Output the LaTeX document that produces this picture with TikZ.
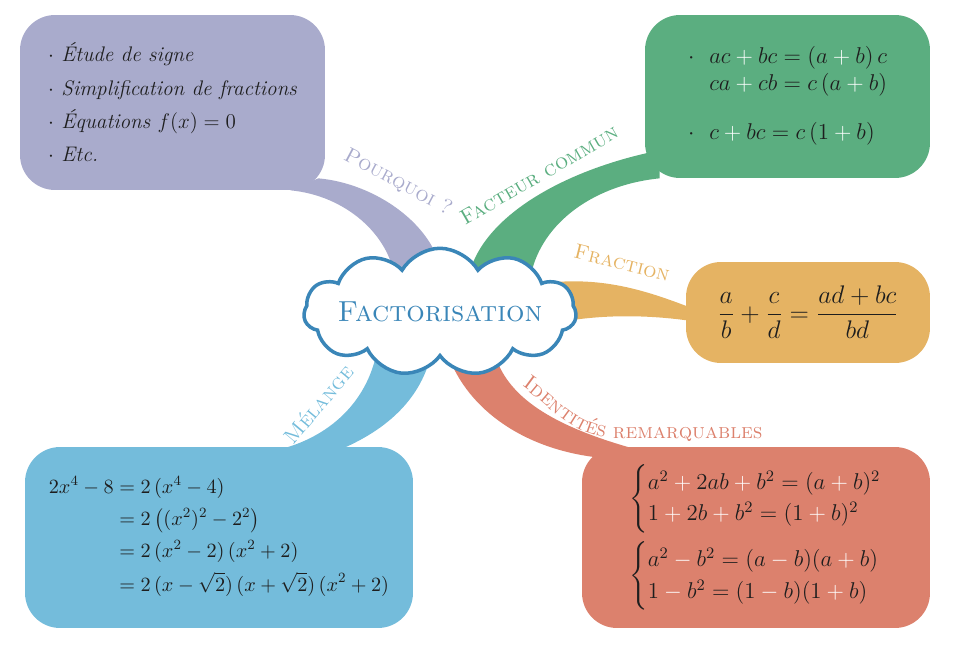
\RequirePackage{fix-cm}
\documentclass[tikz,border=0pt]{standalone}
\usepackage{amsmath}
\usepackage{amssymb}
\usetikzlibrary{shapes.symbols,decorations.text,backgrounds,calc}

\definecolor{pourquoicol}{RGB}{169,171,204}
\definecolor{facteurcol}{RGB}{91,174,128}
\definecolor{fractioncol}{RGB}{229,179,99}
\definecolor{identcol}{RGB}{220,129,109}
\definecolor{melangecol}{RGB}{116,188,219}
\definecolor{cloudcol}{RGB}{58,134,184}
\definecolor{inkcol}{RGB}{30,30,30}

\newcommand{\wplus}{\mathbin{\color{white}+}}
\newcommand{\wminus}{\mathbin{\color{white}-}}

\tikzset{
  box/.style={rounded corners=0.7cm, inner sep=0pt, align=left, text=inkcol,
    font=\fontsize{13}{18}\selectfont},
  branchlabel/.style={inner sep=0pt, font=\fontsize{12}{14}\selectfont\scshape},
}

\begin{document}
\begin{tikzpicture}[x=0.02cm,y=-0.02cm]
\useasboundingbox (0,0) rectangle (960,656);

% central idea
\node[cloud, cloud puffs=11, cloud puff arc=120, aspect=2.1, draw=cloudcol, line width=2pt,
  fill=white, minimum width=5.45cm, minimum height=2.55cm] (cloud) at (440,312) {};
\node[text=cloudcol, font=\fontsize{16.5}{20}\selectfont\scshape] (titre) at (cloud.center) {Factorisation};

% boxes
\node[box, fill=pourquoicol, minimum width=6.1cm, minimum height=3.5cm,
  font=\fontsize{12}{19}\selectfont\itshape] (pourquoi) at (172.5,102.5)
  {$\cdot$ Étude de signe\\ $\cdot$ Simplification de fractions\\
   $\cdot$ Équations $f(x) = 0$\\ $\cdot$ Etc.};
\node[box, fill=facteurcol, minimum width=5.7cm, minimum height=3.26cm,
  font=\fontsize{13}{15}\selectfont] (facteur) at (787.5,96.5)
  {\begin{tabular}{@{}l@{\ \ }l@{}}
   $\cdot$ & $ac \wplus bc = (a \wplus b)\,c$\\
           & $ca \wplus cb = c\,(a \wplus b)$\\[13pt]
   $\cdot$ & $c \wplus bc = c\,(1 \wplus b)$
   \end{tabular}};
\node[box, fill=fractioncol, minimum width=4.88cm, minimum height=2.02cm,
  font=\fontsize{14.5}{18}\selectfont] (fraction) at (808,312.5)
  {$\dfrac{a}{b} + \dfrac{c}{d} = \dfrac{ad + bc}{bd}$};
\node[box, fill=identcol, minimum width=6.96cm, minimum height=3.62cm] (identites) at (756,537.5)
  {$\left\{\begin{array}{@{}l@{}}
     a^2 \wplus 2ab \wplus b^2 = (a \wplus b)^2\\
     1 \wplus 2b \wplus b^2 = (1 \wplus b)^2
   \end{array}\right.$\\[4pt]
   $\left\{\begin{array}{@{}l@{}}
     a^2 \wminus b^2 = (a \wminus b)(a \wplus b)\\
     1 \wminus b^2 = (1 \wminus b)(1 \wplus b)
   \end{array}\right.$};
\node[box, fill=melangecol, minimum width=7.76cm, minimum height=3.62cm,
  font=\fontsize{11.5}{14}\selectfont] (melange) at (219,537.5)
  {$\begin{aligned}
     2x^4 - 8 &= 2\,(x^4 - 4)\\
              &= 2\,\bigl((x^2)^2 - 2^2\bigr)\\
              &= 2\,(x^2 - 2)\,(x^2 + 2)\\
              &= 2\,(x - \sqrt{2})\,(x + \sqrt{2})\,(x^2 + 2)
   \end{aligned}$};

% branches
\begin{pgfonlayer}{background}
\fill[pourquoicol] ($(pourquoi.south east)+(-7,-12)$) .. controls +(57,5) and +(-7,-50) ..
  ($(cloud.center)+(2,-37)$) -- ($(cloud.center)+(-45,-32)$) .. controls +(-5,-45) and +(55,5) ..
  ($(pourquoi.south east)+(-35,0)$) -- cycle;
\fill[facteurcol] ($(cloud.center)+(28,-32)$) .. controls +(10,-60) and +(-100,20) ..
  ($(facteur.south west)+(15,-28)$) -- ($(facteur.south west)+(15,0)$) .. controls +(-70,7) and +(8,-53) ..
  ($(cloud.center)+(90,-32)$) -- cycle;
\fill[fractioncol] ($(cloud.center)+(105,-29)$) .. controls +(60,-7) and +(-42,-16) ..
  ($(fraction.west)+(6,-4.5)$) -- ($(fraction.west)+(6,8.5)$) .. controls +(-42,-6) and +(45,-8) ..
  ($(cloud.center)+(120,10)$) -- cycle;
\fill[identcol] ($(cloud.center)+(8,43)$) .. controls +(20,55) and +(-75,-8) ..
  ($(identites.north west)+(18,11)$) -- ($(identites.north west)+(63,5)$) .. controls +(-75,-20) and +(15,50) ..
  ($(cloud.center)+(55,43)$) -- cycle;
\fill[melangecol] ($(cloud.center)+(-62,33)$) .. controls +(-8,55) and +(60,-12) ..
  ($(melange.north)+(51,5)$) -- ($(melange.north)+(116,5)$) .. controls +(55,-22) and +(-8,50) ..
  ($(cloud.center)+(-7,33)$) -- cycle;
\end{pgfonlayer}

% branch labels
\node[branchlabel, text=pourquoicol, rotate=-28] (lblpourquoi) at (398,182) {Pourquoi ?};
\node[branchlabel, text=facteurcol, rotate=30] (lblfacteur) at (539,175) {Facteur commun};
\node[branchlabel, text=fractioncol, rotate=-14] (lblfraction) at (622,263) {Fraction};
\node[branchlabel, text=melangecol, rotate=50] (lblmelange) at (318,404) {Mélange};
\path[decorate, decoration={text along path, text color=identcol,
  text={|\fontsize{12}{14}\selectfont\scshape|Identités remarquables}}]
  (522,386) .. controls (547,403) and (572,437) .. (612,438) -- (780,438);
\end{tikzpicture}
\end{document}
